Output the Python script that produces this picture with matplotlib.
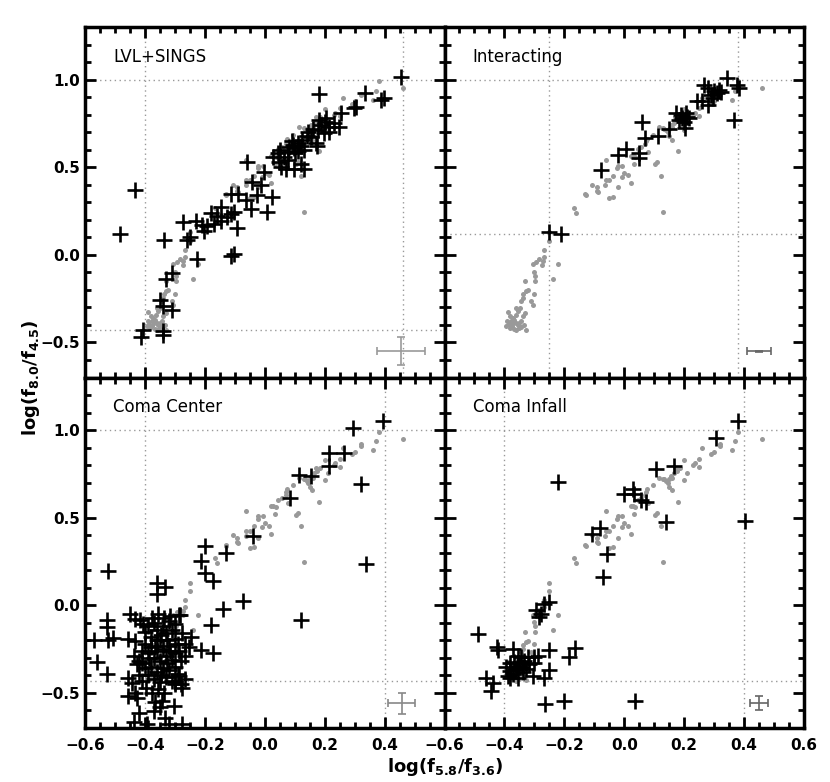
import matplotlib
matplotlib.use('Agg')
import matplotlib.pyplot as plt
from matplotlib.ticker import MultipleLocator

plt.rcParams['font.family'] = ['DejaVu Sans']
plt.rcParams['mathtext.fontset'] = 'custom'
plt.rcParams['mathtext.rm'] = 'DejaVu Sans:bold'
plt.rcParams['mathtext.default'] = 'rm'

# comparison sample (grey dots), same in every panel
gray_x = [0.46, 0.38, 0.37, 0.36, 0.32, 0.32, 0.30, 0.29, 0.26, 0.25, 0.25, 0.235, 0.23, 0.21,
          0.20, 0.20, 0.185, 0.175, 0.17, 0.165, 0.16, 0.155, 0.15, 0.145, 0.14, 0.133, 0.13,
          0.15, 0.158, 0.115, 0.095, 0.18, 0.11, 0.103, 0.122, 0.13, 0.075, 0.072, 0.07, 0.078,
          0.056, 0.045, 0.037, 0.028, 0.022, 0.033, 0.022, 0.014, 0.0, -0.008, -0.006, -0.022,
          -0.024, -0.022, -0.036, -0.05, -0.063, -0.061, -0.05, -0.036, -0.092, -0.092, -0.13,
          -0.106, -0.167, -0.161, -0.089, -0.061, -0.128,
          -0.25, -0.25, -0.267, -0.267, -0.272, -0.283, -0.294, -0.306, -0.274, -0.222, -0.239,
          -0.30, -0.297, -0.297, -0.33, -0.328, -0.322, -0.337, -0.339, -0.344, -0.30, -0.311,
          -0.306, -0.389, -0.361, -0.356, -0.363, -0.348, -0.394, -0.383, -0.367, -0.35, -0.333,
          -0.328, -0.372, -0.378, -0.361, -0.344, -0.339, -0.367, -0.385, -0.375, -0.355, -0.345,
          -0.39, -0.36, -0.37, -0.35, -0.38, -0.33]
gray_y = [0.95, 0.99, 0.935, 0.885, 0.92, 0.91, 0.877, 0.862, 0.895, 0.835, 0.79, 0.81, 0.80, 0.755,
          0.715, 0.83, 0.785, 0.766, 0.785, 0.755, 0.728, 0.738, 0.718, 0.70, 0.71, 0.718, 0.722,
          0.676, 0.657, 0.728, 0.684, 0.59, 0.527, 0.517, 0.45, 0.245, 0.661, 0.648, 0.632, 0.584,
          0.613, 0.603, 0.561, 0.569, 0.565, 0.521, 0.408, 0.454, 0.469, 0.446, 0.508, 0.508,
          0.494, 0.387, 0.45, 0.425, 0.397, 0.54, 0.326, 0.33, 0.387, 0.364, 0.345,
          0.40, 0.27, 0.24, 0.358, 0.425, 0.339,
          0.128, 0.08, 0.029, -0.011, -0.034, -0.025, -0.04, -0.054, -0.057, -0.054, -0.14,
          -0.098, -0.12, -0.15, -0.15, -0.207, -0.203, -0.226, -0.249, -0.264, -0.222, -0.264,
          -0.284, -0.326, -0.303, -0.322, -0.341, -0.303, -0.408, -0.418, -0.421, -0.418, -0.398,
          -0.427, -0.36, -0.379, -0.389, -0.379, -0.351, -0.37, -0.395, -0.405, -0.40, -0.41,
          -0.38, -0.43, -0.39, -0.39, -0.35, -0.33]

# LVL+SINGS
lvl_x = [0.456, 0.18, 0.333, 0.389, 0.398, 0.299, 0.305, 0.255, 0.182, 0.205, 0.188, 0.216, 0.249,
         0.216, 0.177, 0.199, 0.143, 0.154, 0.126, 0.11, 0.093, 0.082, 0.098, 0.076, 0.065, 0.043,
         0.026, 0.048, 0.076, 0.121, 0.132, 0.098, 0.07, 0.054, 0.171, 0.175, 0.132, 0.10, 0.12,
         0.09, 0.14, 0.16, -0.06, -0.002, -0.041, -0.013, -0.114, -0.09, 0.024, -0.027, -0.064,
         -0.047, 0.006, -0.147, -0.181, -0.159, -0.114, -0.103, -0.125, -0.147, -0.17, -0.203,
         -0.192, -0.092, -0.231, -0.272, -0.209, -0.259, -0.251, -0.337, -0.114, -0.103, -0.226,
         -0.432, -0.483, -0.309, -0.328, -0.351, -0.341, -0.309, -0.405, -0.413, -0.34, -0.34,
         0.20, 0.23, 0.05, 0.11]
lvl_y = [1.015, 0.916, 0.923, 0.885, 0.895, 0.837, 0.845, 0.812, 0.77, 0.78, 0.741, 0.732, 0.732,
         0.703, 0.713, 0.694, 0.703, 0.674, 0.655, 0.636, 0.626, 0.617, 0.607, 0.588, 0.56, 0.579,
         0.56, 0.53, 0.54, 0.521, 0.492, 0.492, 0.492, 0.502, 0.636, 0.62, 0.598, 0.58, 0.62,
         0.65, 0.68, 0.72, 0.53, 0.473, 0.416, 0.397, 0.349, 0.345, 0.33, 0.339, 0.31,
         0.263, 0.243, 0.272, 0.237, 0.224, 0.234, 0.243, 0.214, 0.195, 0.176, 0.138,
         0.167, 0.151, 0.195, 0.186, 0.172, 0.084, 0.10, 0.084, -0.006, 0.004, -0.021,
         0.368, 0.119, -0.101, -0.14, -0.255, -0.293, -0.312, -0.427, -0.471, -0.437, -0.456,
         0.76, 0.75, 0.60, 0.59]

# Interacting
int_x = [0.342, 0.267, 0.278, 0.378, 0.383, 0.317, 0.30, 0.311, 0.322, 0.289, 0.297, 0.242, 0.261,
         0.278, 0.367, 0.172, 0.189, 0.206, 0.211, 0.194, 0.183, 0.20, 0.217, 0.203, 0.15, 0.111,
         0.059, 0.07, 0.006, -0.022, 0.05, 0.05, -0.076, -0.25, -0.211]
int_y = [1.01, 0.971, 0.952, 0.971, 0.952, 0.943, 0.933, 0.923, 0.929, 0.914, 0.895, 0.875, 0.875,
         0.856, 0.77, 0.808, 0.799, 0.808, 0.789, 0.78, 0.77, 0.76, 0.78, 0.722, 0.716, 0.678,
         0.76, 0.665, 0.602, 0.569, 0.579, 0.55, 0.483, 0.128, 0.119]

# Coma Center
cc_x = [0.395, 0.296, 0.216, 0.266, 0.216, 0.115, 0.156, 0.322, 0.085, -0.038, -0.198, -0.128,
        -0.212, -0.198, -0.172, 0.339, -0.073, -0.14, 0.121, -0.179, -0.174, -0.214, -0.246,
        -0.254, -0.282, -0.36, -0.332, -0.36, -0.522, -0.527, -0.527, -0.57, -0.522, -0.505,
        -0.559, -0.525,
        -0.449, -0.432, -0.416, -0.405, -0.455, -0.432, -0.438, -0.421, -0.427, -0.455, -0.443,
        -0.457, -0.432, -0.427, -0.421, -0.438, -0.393, -0.371, -0.343, -0.332, -0.304, -0.32,
        -0.276, -0.265, -0.276, -0.298, -0.287, -0.265, -0.265, -0.287, -0.298, -0.39,
        -0.40, -0.39, -0.38, -0.37, -0.36, -0.35, -0.34, -0.33, -0.32, -0.31, -0.30, -0.40,
        -0.39, -0.38, -0.37, -0.36, -0.35, -0.34, -0.33, -0.32, -0.31, -0.30, -0.29, -0.41,
        -0.40, -0.39, -0.38, -0.37, -0.36, -0.35, -0.34, -0.33, -0.32, -0.31, -0.30, -0.29,
        -0.28, -0.36, -0.345, -0.325, -0.355, -0.335, -0.315, -0.375, -0.395, -0.375, -0.355,
        -0.335, -0.41, -0.365, -0.35, -0.30, -0.28, -0.385, -0.345, -0.325, -0.315, -0.365,
        -0.285, -0.275, -0.41, -0.42]
cc_y = [1.054, 1.011, 0.872, 0.872, 0.795, 0.741, 0.737, 0.69, 0.613, 0.397, 0.341, 0.297,
        0.255, 0.182, 0.14, 0.236, 0.025, -0.019, -0.086, -0.115, -0.274, -0.255, -0.182,
        -0.24, -0.057, 0.125, 0.105, 0.067, 0.197, -0.086, -0.125, -0.197, -0.197, -0.186,
        -0.326, -0.393,
        -0.048, -0.076, -0.086, -0.105, -0.191, -0.201, -0.287, -0.316, -0.335, -0.412, -0.441,
        -0.517, -0.498, -0.527, -0.613, -0.665, -0.68, -0.603, -0.546, -0.642, -0.575, -0.68,
        -0.68, -0.421, -0.47, -0.45, -0.402, -0.22, -0.287, -0.057, -0.105, -0.70,
        -0.15, -0.12, -0.18, -0.10, -0.14, -0.20, -0.12, -0.16, -0.09, -0.14, -0.19, -0.22,
        -0.27, -0.24, -0.30, -0.26, -0.32, -0.25, -0.29, -0.23, -0.31, -0.27, -0.22, -0.33,
        -0.36, -0.40, -0.35, -0.42, -0.38, -0.44, -0.36, -0.41, -0.37, -0.43, -0.35, -0.39,
        -0.32, -0.20, -0.17, -0.20, -0.05, -0.07, -0.06, -0.07, -0.47, -0.50, -0.48,
        -0.50, -0.43, -0.55, -0.58, -0.44, -0.45, -0.30, -0.40, -0.33, -0.26, -0.23,
        -0.26, -0.16, -0.26, -0.40]

# Coma Infall
ci_x = [0.381, 0.306, 0.106, 0.167, 0.0, 0.028, 0.033, 0.056, 0.074, 0.403, 0.141, -0.108, -0.081,
        -0.056, -0.07, -0.222, -0.489, -0.426, -0.422, -0.372, -0.356, -0.289, -0.25, -0.163,
        -0.183, -0.252, -0.267, -0.306, -0.461, -0.439, -0.444, -0.263, -0.2, 0.037, -0.294,
        -0.278, -0.267, -0.252, -0.283, -0.394, -0.383, -0.372, -0.361, -0.35, -0.333, -0.322,
        -0.317, -0.339, -0.356, -0.383, -0.367, -0.344, -0.328, -0.389, -0.30, -0.38, -0.355,
        -0.34, -0.30]
ci_y = [1.05, 0.954, 0.78, 0.795, 0.636, 0.661, 0.636, 0.603, 0.59, 0.483, 0.473, 0.408, 0.444,
        0.291, 0.159, 0.705, -0.163, -0.236, -0.255, -0.249, -0.287, -0.287, -0.255, -0.243,
        -0.297, -0.37, -0.412, -0.402, -0.412, -0.446, -0.489, -0.565, -0.546, -0.546, -0.029,
        -0.048, 0.01, 0.019, -0.067, -0.354, -0.374, -0.393, -0.364, -0.345, -0.316, -0.297,
        -0.335, -0.383, -0.412, -0.412, -0.326, -0.297, -0.364, -0.402, -0.293, -0.33, -0.33,
        -0.35, -0.33]

panel_names = ['LVL+SINGS', 'Interacting', 'Coma Center', 'Coma Infall']
panel_x = [lvl_x, int_x, cc_x, ci_x]
panel_y = [lvl_y, int_y, cc_y, ci_y]

# dotted reference lines (vertical x, horizontal y) per panel
vlines = [[-0.4, 0.46], [-0.25, 0.38], [-0.4, 0.4], [-0.4, 0.4]]
hlines = [[1.0, -0.43], [1.0, 0.12], [1.0, -0.43], [1.0, -0.43]]

# typical error bars: x, y, xerr, yerr, colour
err_x = [0.455, 0.45, 0.457, 0.45]
err_y = [-0.55, -0.55, -0.56, -0.56]
err_dx = [0.08, 0.04, 0.045, 0.03]
err_dy = [0.08, 0.004, 0.06, 0.04]
err_col = ['#999999', '#666666', '#888888', '#666666']

fig = plt.figure(figsize=(8.3, 7.82), dpi=100)

left, w = 85 / 830, 359.5 / 830
bottom, h = 54 / 782, 350.5 / 782
positions = [[left, bottom + h, w, h], [left + w, bottom + h, w, h],
             [left, bottom, w, h], [left + w, bottom, w, h]]

for i, pos in enumerate(positions):
    ax = fig.add_axes(pos)
    ax.set_xlim(-0.6, 0.6)
    ax.set_ylim(-0.7, 1.3)

    for v in vlines[i]:
        ax.axvline(v, color='#999999', linestyle=(0, (1, 2.5)), linewidth=1.0, zorder=1)
    for hh in hlines[i]:
        ax.axhline(hh, color='#999999', linestyle=(0, (1, 2.5)), linewidth=1.0, zorder=1)

    ax.plot(gray_x, gray_y, 'o', color='#999999', markersize=3.6, markeredgewidth=0, zorder=2)
    ax.plot(panel_x[i], panel_y[i], '+', color='black', markersize=11, markeredgewidth=1.9,
            zorder=3)

    ax.errorbar(err_x[i], err_y[i], xerr=err_dx[i], yerr=err_dy[i], fmt='none',
                ecolor=err_col[i], elinewidth=1.2, capsize=3, capthick=1.2, zorder=3)

    ax.text(0.078, 0.915, panel_names[i], transform=ax.transAxes, fontsize=12,
            ha='left', va='center')

    ax.xaxis.set_major_locator(MultipleLocator(0.2))
    ax.xaxis.set_minor_locator(MultipleLocator(0.05))
    ax.yaxis.set_major_locator(MultipleLocator(0.5))
    ax.yaxis.set_minor_locator(MultipleLocator(0.1))
    ax.tick_params(which='both', direction='in', top=True, right=True, width=2)
    ax.tick_params(which='major', length=8)
    ax.tick_params(which='minor', length=4)
    for s in ax.spines.values():
        s.set_linewidth(2.5)

    for lab in ax.get_xticklabels() + ax.get_yticklabels():
        lab.set_fontweight('bold')
        lab.set_fontsize(11)

    if i in (0, 1):
        ax.tick_params(labelbottom=False)
    if i in (1, 3):
        ax.tick_params(labelleft=False)
    ax.tick_params(axis='x', pad=7)
    if i == 2:
        ax.set_xticks([-0.6, -0.4, -0.2, 0.0, 0.2, 0.4])
        ax.set_xticklabels(['\u22120.6', '\u22120.4', '\u22120.2', '0.0', '0.2', '0.4'],
                           fontweight='bold', fontsize=11)
    if i == 3:
        ax.set_xticks([-0.6, -0.4, -0.2, 0.0, 0.2, 0.4, 0.6])
        ax.set_xticklabels(['\u22120.6', '\u22120.4', '\u22120.2', '0.0', '0.2', '0.4', '0.6'],
                           fontweight='bold', fontsize=11)
    if i in (0, 2):
        ax.set_yticks([-0.5, 0.0, 0.5, 1.0])
        ax.set_yticklabels(['\u22120.5', '0.0', '0.5', '1.0'], fontweight='bold', fontsize=11)

fig.text(31 / 830, 1 - 378 / 782, 'log(f$_{8.0}$/f$_{4.5}$)', rotation=90, ha='center',
         va='center', fontsize=13, fontweight='bold')
fig.text(445 / 830, 1 - 767 / 782, 'log(f$_{5.8}$/f$_{3.6}$)', ha='center', va='center',
         fontsize=13, fontweight='bold')

plt.savefig('out.png', dpi=100)
plt.close(fig)
